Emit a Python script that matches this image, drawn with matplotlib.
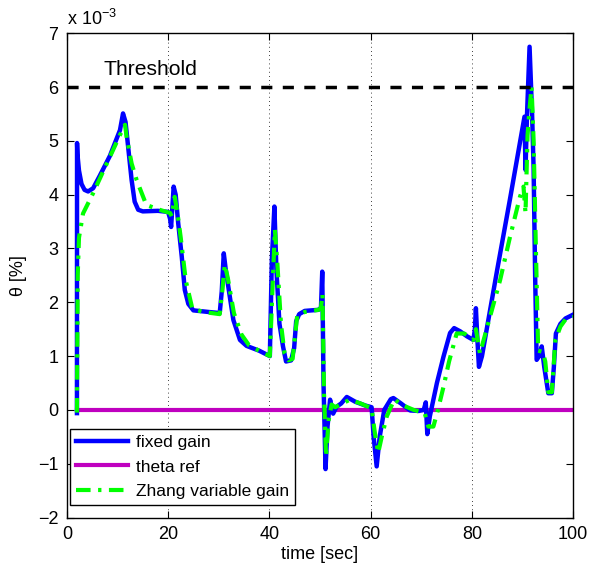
import numpy as np
import matplotlib
matplotlib.use("Agg")
import matplotlib.pyplot as plt
from matplotlib.ticker import FuncFormatter

plt.rcParams['font.family'] = ['Liberation Sans', 'DejaVu Sans']
plt.rcParams['mathtext.fontset'] = 'custom'
plt.rcParams['mathtext.rm'] = 'Liberation Sans'
plt.rcParams['mathtext.it'] = 'Liberation Sans:italic'

# values in units of 1e-3
t_fixed = [2.0, 2.02, 2.1, 2.4, 2.9, 3.5, 4.2, 5.2, 6.5, 8.5, 10.5, 11.1, 11.6, 12.1, 12.8,
           13.4, 14.1, 15, 18, 20.0, 20.4, 20.6, 20.8, 21.1, 21.5, 22.0, 22.7, 23.3, 24.0,
           25.0, 28, 30.2, 30.6, 31.0, 31.4, 32.2, 32.9, 34.2, 35.5, 38, 40.1, 40.5, 41.0,
           41.4, 42.0, 42.7, 43.3, 44.3, 44.9, 45.3, 45.9, 47, 49.7, 50.2, 50.45, 50.7, 51.1,
           51.5, 52.0, 52.6, 53.3, 54.2, 55.3, 57, 59.0, 60.2, 60.6, 61.2, 61.8, 62.7, 64.0,
           64.5, 66, 67.8, 69.5, 70.5, 70.9, 71.2, 71.7, 73.1, 74.4, 75.7, 76.5, 77.7, 79.0,
           80.3, 80.6, 80.8, 81.1, 81.4, 82, 85, 87.5, 90.4, 90.6, 90.9, 91.4, 91.9, 92.2,
           92.5, 92.8, 93.3, 93.8, 94.3, 95.1, 95.8, 96.2, 96.6, 97.5, 98.5, 100]
y_fixed = [-0.06, 4.96, 4.75, 4.45, 4.2, 4.09, 4.06, 4.12, 4.35, 4.72, 5.2, 5.51, 5.35, 4.9,
           4.27, 3.87, 3.72, 3.69, 3.7, 3.68, 3.55, 3.40, 3.7, 4.15, 4.0, 3.47, 2.85, 2.23,
           1.97, 1.85, 1.82, 1.80, 2.2, 2.91, 2.6, 2.1, 1.67, 1.3, 1.19, 1.1, 1.0, 2.8, 3.78,
           2.6, 1.6, 1.18, 0.9, 0.92, 1.15, 1.65, 1.78, 1.84, 1.86, 1.9, 2.57, 0.5, -1.1,
           -0.3, 0.19, -0.07, 0.06, 0.12, 0.24, 0.15, 0.08, 0.05, -0.5, -1.05, -0.5, 0.0, 0.2,
           0.22, 0.12, -0.01, -0.02, 0.0, 0.14, -0.45, -0.12, 0.5, 0.99, 1.43, 1.52, 1.46, 1.37,
           1.30, 1.5, 1.89, 1.3, 0.80, 1.0, 2.6, 3.9, 5.45, 4.46, 5.5, 6.75, 5.5, 4.49,
           2.5, 0.93, 1.0, 1.18, 0.8, 0.31, 0.31, 0.8, 1.42, 1.6, 1.7, 1.77]

t_zhang = [2.0, 2.15, 2.4, 3.2, 5.2, 8, 10.5, 11.5, 11.8, 12.8, 13.8, 15.7, 18.3, 20.4, 20.7,
           21.3, 21.8, 22.5, 23.5, 24.8, 27, 30.2, 30.7, 31.2, 31.8, 33, 34.5, 36, 38, 40.1,
           40.6, 41.1, 41.6, 42.3, 43, 43.8, 44.6, 45.5, 47, 49.7, 50.2, 50.5, 50.8, 51.2,
           51.7, 52.3, 53, 55.9, 58, 60.2, 60.8, 61.5, 62.2, 63.2, 64.7, 66, 68.5, 70.7, 71.4,
           72.4, 73.3, 74.4, 75.5, 77, 78.5, 80.3, 80.8, 81.6, 83.5, 85.6, 87.5, 89.5, 90.2,
           90.6, 91.0, 91.4, 91.8, 92.2, 92.6, 93.1, 94, 94.5, 95.1, 95.8, 96.5, 97.5, 98.5, 100]
y_zhang = [-0.05, 2.5, 3.2, 3.65, 4.03, 4.6, 5.11, 5.3, 5.08, 4.58, 4.27, 3.81, 3.72, 3.66,
           3.6, 3.96, 3.7, 3.2, 2.4, 1.88, 1.82, 1.78, 2.2, 2.7, 2.45, 1.8, 1.4, 1.2, 1.1, 1.0,
           2.2, 3.35, 2.7, 1.6, 1.05, 0.92, 0.95, 1.75, 1.82, 1.86, 1.9, 2.15, 0.3, -0.87,
           -0.2, 0.1, 0.05, 0.19, 0.12, 0.03, -0.4, -0.8, -0.5, -0.12, 0.2, 0.1, 0.0, -0.06,
           -0.31, -0.31, 0.0, 0.43, 0.9, 1.42, 1.42, 1.3, 1.5, 1.05, 1.7, 2.42, 3.2, 3.96, 4.15,
           3.66, 5.1, 5.6, 6.0, 5.0, 3.2, 1.1, 1.08, 0.9, 0.33, 0.33, 1.3, 1.55, 1.68, 1.73]

t_ref = [2, 100]
y_ref = [0, 0]
threshold = 6.0

scale = 1e-3

fig = plt.figure(figsize=(6.02, 5.69), dpi=100)
ax = fig.add_axes([0.111, 0.0905, 0.841, 0.851])

ax.plot(t_fixed, np.array(y_fixed) * scale, color='#0000FF', lw=3.2, label='fixed gain', zorder=3)
ax.plot(t_ref, np.array(y_ref) * scale, color='#BF00BF', lw=3, label='theta ref', zorder=2)
ax.plot(t_zhang, np.array(y_zhang) * scale, color='#00FF00', lw=3, ls='-.',
        dashes=(3.5, 1.8, 0.8, 1.8), label='Zhang variable gain', zorder=4)
ax.plot([0, 100], [threshold * scale, threshold * scale], color='k', lw=2.5,
        dashes=(3.2, 3), zorder=5)
ax.text(7.2, 6.15 * scale, 'Threshold', fontsize=15.2, ha='left', va='bottom')

ax.set_xlim(0, 100)
ax.set_ylim(-2e-3, 7e-3)
ax.set_xticks(np.arange(0, 101, 20))
ax.set_yticks(np.arange(-2, 8, 1) * scale)
ax.yaxis.set_major_formatter(FuncFormatter(
    lambda v, p: ('%g' % round(v / scale, 6)).replace('-', '\u2212')))
ax.xaxis.grid(True, linestyle=(0, (1, 4)), color='k', lw=0.6)
ax.tick_params(direction='in', top=True, right=True, length=5, labelsize=13, width=0.8, pad=6)
for s in ax.spines.values():
    s.set_linewidth(1.0)

ax.text(0.0, 1.008, r'x 10$^{-3}$', transform=ax.transAxes, fontsize=13, ha='left', va='bottom')
ax.set_xlabel('time [sec]', fontsize=13, labelpad=2)
ax.set_ylabel('\u03b8 [%]', fontsize=13, labelpad=8)

leg = ax.legend(loc='lower left', bbox_to_anchor=(0.0, 0.018), fontsize=12.5, fancybox=False,
                framealpha=1, edgecolor='k', handlelength=3.0, borderpad=0.35,
                labelspacing=0.55, handletextpad=0.45, borderaxespad=0.2)
leg.get_frame().set_linewidth(1.0)

plt.savefig('out.png', dpi=100)
